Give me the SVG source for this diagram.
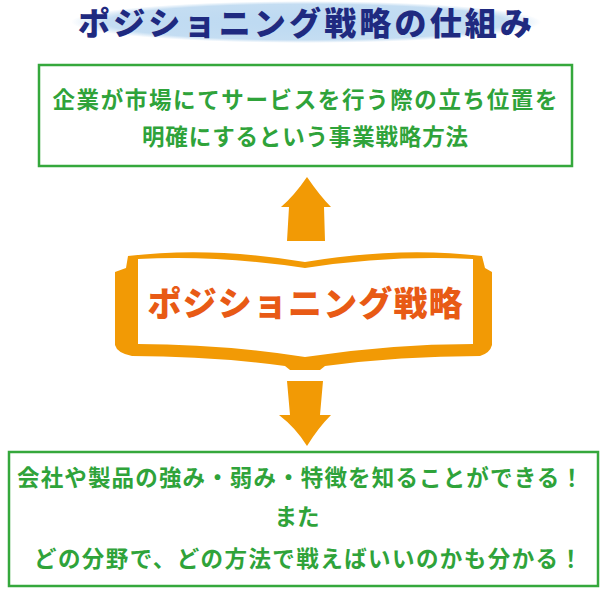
<svg xmlns="http://www.w3.org/2000/svg" width="600" height="590" viewBox="0 0 600 590">
<defs>
<style>
.g{font-family:"Noto Sans CJK JP",sans-serif;font-weight:bold;fill:#2fa33a;font-size:22.5px;text-anchor:middle}
.box{fill:#fff;stroke:#35a83c;stroke-width:2.5}
.or{fill:#f29a05}
</style>
<radialGradient id="ell" cx="0.5" cy="0.5" r="0.5"><stop offset="0" stop-color="#bcd9f2"/><stop offset="0.85" stop-color="#c4ddf2"/><stop offset="1" stop-color="#c4ddf2" stop-opacity="0"/></radialGradient>
</defs>
<g id="title">
<ellipse cx="306" cy="22" rx="235" ry="21" fill="url(#ell)"/>
<text x="305" y="35" font-family="Noto Sans CJK JP,sans-serif" font-weight="900" font-size="32" fill="#1f2a80" text-anchor="middle" textLength="454" lengthAdjust="spacing">ポジショニング戦略の仕組み</text>
</g>
<g id="top">
<rect class="box" x="39" y="65" width="533" height="101"/>
<text class="g" x="305" y="108" textLength="505" lengthAdjust="spacing">企業が市場にてサービスを行う際の立ち位置を</text>
<text class="g" x="305" y="145" textLength="326" lengthAdjust="spacing">明確にするという事業戦略方法</text>
</g>
<g id="center">
<path class="or" d="M115,272 L126,268 L128,256 Q210,246 305,262 Q400,246 482,256 L485,268 L492,272 L492,345 Q490,353 480,356 Q400,356 325,366 L320,370 L290,370 L285,366 Q210,356 132,356 Q117,353 115,345 Z"/>
<path fill="#fff" d="M138,259 Q220,255 305,268 Q390,255 473,259 L473,344 Q390,344 305,357 Q220,344 138,344 Z"/>
<text x="305" y="316" font-family="Noto Sans CJK JP,sans-serif" font-weight="900" font-size="34" fill="#e85a15" text-anchor="middle" textLength="315" lengthAdjust="spacing">ポジショニング戦略</text>
</g>
<g id="bottom">
<rect class="box" x="9" y="452" width="589" height="134"/>
<text class="g" x="300" y="486" textLength="566" lengthAdjust="spacing">会社や製品の強み・弱み・特徴を知ることができる！</text>
<text class="g" x="297" y="525">また</text>
<text class="g" x="308" y="567" textLength="548" lengthAdjust="spacing">どの分野で、どの方法で戦えばいいのかも分かる！</text>
</g>
<g id="connectors">
<path class="or" d="M307,177 Q320,196 331,207 L324,207 L325,241 L287,241 L289,207 L281,207 Q294,196 307,177 Z"/>
<path class="or" d="M287,381 L323,381 L320,415 L331,415 Q318,428 307,446 Q296,428 279,415 L290,415 Z"/>
</g>
</svg>
